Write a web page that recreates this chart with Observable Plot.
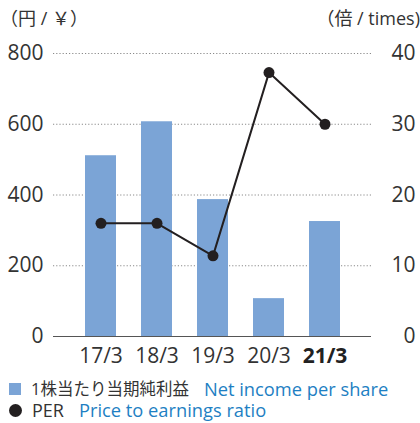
<!DOCTYPE html>
<html>
<head>
<meta charset="utf-8">
<script src="https://cdn.jsdelivr.net/npm/d3@7"></script>
<script src="https://cdn.jsdelivr.net/npm/@observablehq/plot@0.6"></script>
<style>
  html, body { margin: 0; padding: 0; background: #fff; }
  #wrap { position: relative; width: 420px; height: 423px; font-family: "Open Sans", "Noto Sans CJK JP", sans-serif; color: #333; }
  .hdr { position: absolute; top: 6px; font-size: 18px; line-height: 24px; color: #333; white-space: nowrap; }
  .leg { position: absolute; left: 9px; height: 20px; line-height: 20px; font-size: 16.5px; color: #333; white-space: nowrap; display: flex; align-items: center; }
  .leg .lat { font-size: 18px; }
  .leg .en { color: #1e7fc3; margin-left: 15px; font-size: 18.3px; }
  .sq { display: inline-block; width: 12px; height: 12px; background: #7ba4d6; margin-right: 10px; }
  .dot { display: inline-block; width: 13px; height: 13px; border-radius: 50%; background: #231f20; margin-right: 10px; }
</style>
</head>
<body>
<div id="wrap">
  <div class="hdr" style="left:0px">（円 / ￥）</div>
  <div class="hdr" style="right:0px">（倍 / times<span style="font-family:'Open Sans'">)</span></div>
  <div class="leg" style="top:379px"><span class="sq"></span>1株当たり当期純利益<span class="en">Net income per share</span></div>
  <div class="leg" style="top:400px"><span class="dot"></span><span class="lat">PER</span><span class="en">Price to earnings ratio</span></div>
</div>
<script>
const categories = ["17/3", "18/3", "19/3", "20/3", "21/3"];
const eps = [511, 607, 387, 107, 325];
const per = [16.0, 16.0, 11.4, 37.3, 30.0];
const leftTicks = [0, 200, 400, 600, 800];
const rightTicks = [0, 10, 20, 30, 40];
const boldCategory = "21/3";

const scale = 800 / 40;
const rows = categories.map((c, i) => ({cat: c, eps: eps[i], per: per[i], perY: per[i] * scale}));
const ticks = leftTicks.map((v, i) => ({y: v, left: String(v), right: String(rightTicks[i])}));

const chart = Plot.plot({
  width: 420,
  height: 423,
  marginTop: 53,
  marginBottom: 87,
  marginLeft: 53,
  marginRight: 49,
  style: {fontFamily: '"Open Sans", "Noto Sans CJK JP", sans-serif', background: "transparent", overflow: "visible"},
  x: {domain: categories, paddingInner: 0.45, paddingOuter: 0.53, axis: null},
  y: {domain: [0, 800], axis: null},
  marks: [
    Plot.ruleY(leftTicks.filter(d => d > 0), {stroke: "#8a8a8a", strokeWidth: 1, strokeDasharray: "1.2,2"}),
    Plot.barY(rows, {x: "cat", y: "eps", fill: "#7ba4d6"}),
    Plot.ruleY([0], {stroke: "#555", strokeWidth: 1.2}),
    Plot.line(rows, {x: "cat", y: "perY", stroke: "#231f20", strokeWidth: 2}),
    Plot.dot(rows, {x: "cat", y: "perY", r: 5.5, fill: "#231f20"}),
    Plot.text(ticks, {y: "y", text: "left", frameAnchor: "left", textAnchor: "end", dx: -10, fontSize: 21, fill: "#333"}),
    Plot.text(ticks, {y: "y", text: "right", frameAnchor: "right", textAnchor: "end", dx: 44, fontSize: 21, fill: "#333"}),
    Plot.text(rows.filter(d => d.cat !== boldCategory), {x: "cat", text: "cat", frameAnchor: "bottom", dy: 26, fontSize: 21, fill: "#333"}),
    Plot.text(rows.filter(d => d.cat === boldCategory), {x: "cat", text: "cat", frameAnchor: "bottom", dy: 26, fontSize: 21, fill: "#222", fontWeight: "bold"})
  ]
});
const wrap = document.getElementById("wrap");
chart.style.position = "absolute";
chart.style.left = "0";
chart.style.top = "0";
wrap.insertBefore(chart, wrap.firstChild);
</script>
</body>
</html>
